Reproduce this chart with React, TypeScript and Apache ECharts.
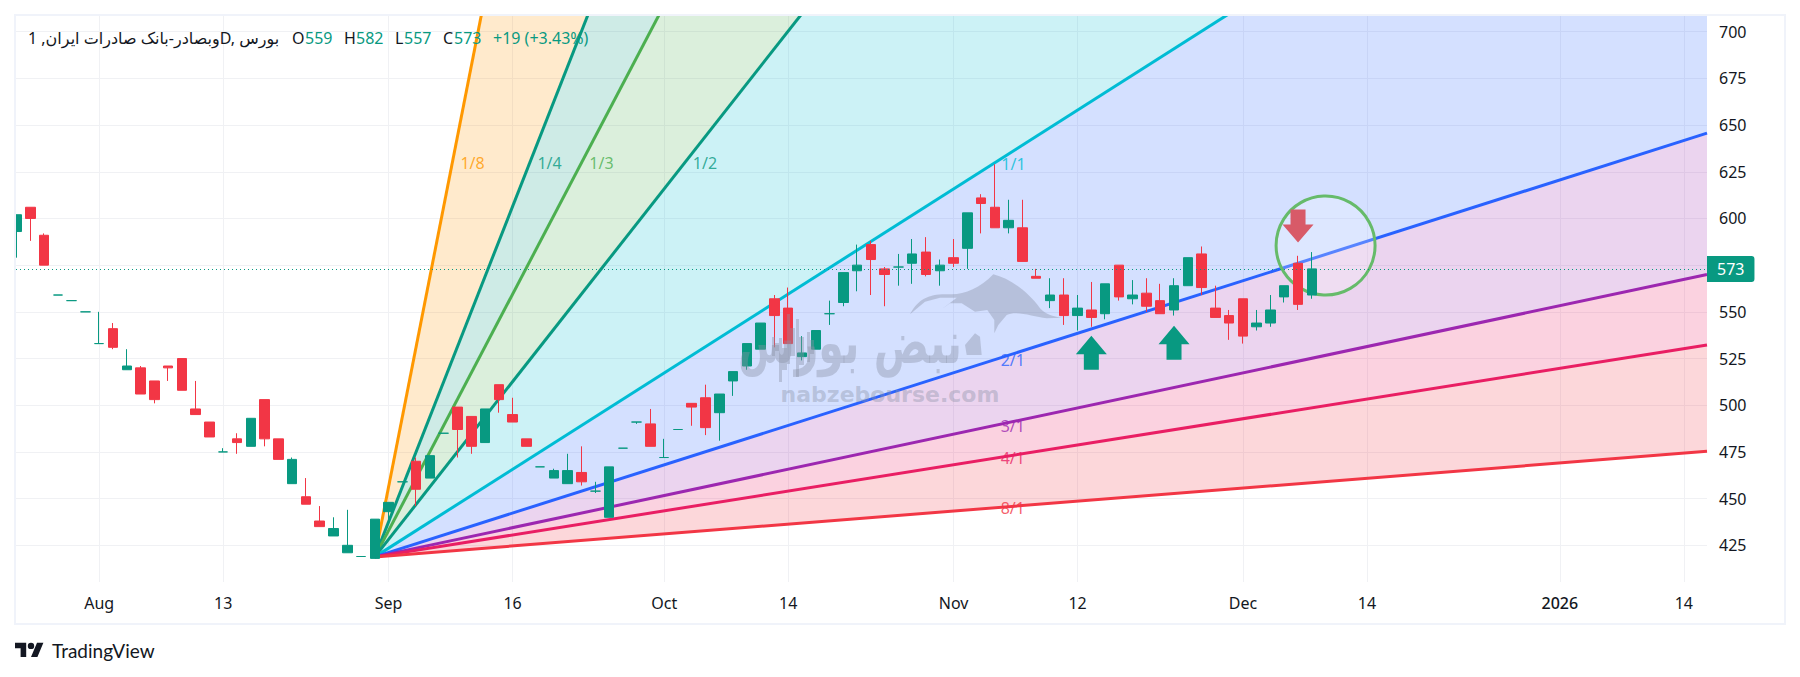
import { useEffect, useRef } from "react";
import * as echarts from "echarts";

const opens = [593,606,591,559,556,550,533,541,519,520,513,521,525,498,491,475,482,478,503,482,458,451,438,430,421,419,418,443,459,470,461,485,499,494,480,511,495,482,467,461,458,464,454,440,477,491,490,472,487,501,504,496,513,521,530,557,552,526,530,549,555,572,586,573,574,576,582,572,579,584,611,606,595,595,569,556,559,548,551,549,575,557,560,556,551,564,581,552,548,557,542,544,558,576,559];
const closes = [602,600,575,559,556,550,533,531,521,506,503,520,508,495,483,475,480,493,482,471,471,447,435,434,425,419,439,448,459,455,473,485,487,478,498,503,491,478,467,465,465,459,454,467,477,491,478,472,487,499,488,506,518,533,544,548,533,528,540,549,571,575,578,570,574,581,570,575,576,603,608,595,599,577,568,559,548,552,547,565,558,559,553,549,564,579,563,547,544,537,544,551,564,554,573];
const lows = [579,588,575,559,556,550,533,530,519,506,501,513,508,495,483,475,474,478,478,471,458,447,435,430,421,419,418,439,459,446,461,485,472,474,480,496,491,478,467,461,458,457,453,440,477,490,478,472,487,489,484,481,505,519,530,531,533,524,530,543,553,561,559,553,564,565,569,564,574,573,592,595,592,577,568,552,543,540,542,546,556,554,550,549,548,564,559,547,535,533,540,542,555,551,557];
const highs = [602,606,592,559,556,550,550,544,530,521,513,521,525,513,491,477,485,493,503,482,472,461,446,440,444,419,439,448,459,472,473,485,499,494,498,511,504,482,467,466,474,478,459,467,477,491,498,482,487,501,511,506,518,533,544,559,563,537,540,556,571,586,588,574,581,589,590,578,589,603,613,629,610,610,573,568,568,559,566,565,575,567,568,565,568,579,585,564,551,557,551,559,564,580,582];

const yTicks = [425, 450, 475, 500, 525, 550, 600, 625, 650, 675, 700];
const yGridLines = [425, 450, 475, 500, 525, 550, 575, 600, 625, 650, 675, 700];
const xTicks = [6, 15, 27, 36, 47, 56, 68, 77, 89, 98, 112, 121];
const xTickLabels = ["Aug", "13", "Sep", "16", "Oct", "14", "Nov", "12", "Dec", "14", "2026", "14"];

const fanOrigin = [26, 418.8];
const fanEndIndex = 122.68;
const fanNames = ["1/8", "1/4", "1/3", "1/2", "1/1", "2/1", "3/1", "4/1", "8/1"];
const fanEndValues = [4047, 2233, 1779, 1326, 872.3, 645.7, 570, 532.3, 475.3];
const fanColors = ["#ff9800", "#089981", "#4caf50", "#089981", "#00bcd4", "#2962ff", "#9c27b0", "#e91e63", "#f23645"];
const fanFills = ["#ff9800", "#089981", "#4caf50", "#00bcd4", "#2962ff", "#9c27b0", "#e91e63", "#f23645"];
const fanLabelAt = [[33.09, 629.7], [38.68, 629.7], [42.45, 629.7], [49.96, 629.7], [72.35, 629.2], [72.3, 524.1], [72.3, 488.8], [72.3, 471.7], [72.3, 445.2]];

const lastPrice = 573;
const upArrows = [[78, 528.1], [84, 533.5]];
const downArrows = [[93, 595.9]];
const circleAt = [95, 585.5];

const legendParts = [
  { text: "وبصادر-بانک صادرات ایران, 1D, بورس", x: 28, color: "#131722" },
  { text: "O", x: 292, color: "#131722" },
  { text: "559", x: 305, color: "#089981" },
  { text: "H", x: 344, color: "#131722" },
  { text: "582", x: 356, color: "#089981" },
  { text: "L", x: 395, color: "#131722" },
  { text: "557", x: 404, color: "#089981" },
  { text: "C", x: 443, color: "#131722" },
  { text: "573", x: 454, color: "#089981" },
  { text: "+19 (+3.43%)", x: 493, color: "#089981" },
];

const FONT = "'Noto Sans', 'DejaVu Sans', sans-serif";
const UP = "#089981";
const DOWN = "#f23645";
const WATERMARK = "rgba(137,144,165,0.4)";
const ARROW_UP = "path://M15.5 0L31 18L23 18L23 33L8 33L8 18L0 18Z";
const ARROW_DOWN = "path://M8 0L23 0L23 15L31 15L15.5 33L0 15L8 15Z";

echarts.graphic.registerShape("tvLogo", echarts.graphic.extendPath(
  "M14 22H7V11H0V4h14v18zM28 22h-8l7.5-18h8L28 22zM24 8a4 4 0 1 1-8 0a4 4 0 1 1 8 0z",
  {},
));
// bull silhouette and the little candles of the watermark, roughly traced
echarts.graphic.registerShape("bull", echarts.graphic.extendPath(
  "M910 314.3C918.3 298.3 930 293.3 950 294.3C963.3 295 980 288.3 993.3 274.3C1010 278.3 1028.3 291.7 1040 308.3C1045 314.3 1053.3 316.7 1061.7 317.7L1046.7 318.3C1033.3 316.7 1016.7 310 1006.7 315L998.3 325L994.3 333.3L994.3 320L987.3 310L975 311.7L961.7 303.3L950 303.3L941.7 309.3L956.7 297.7L940 297.7L925 301.7Z" +
  "M975 333.3L980 336.7L981.7 355L966.7 355L965 345Z" +
  "M772 356h3v-5h5v-8h-5v-6h-3zM779 382h3v-12h5v-22h-5v-10h-3zM787 364h3v-8h5v-28h-5v-14h-3zM796 377h3v-12h5v-28h-5v-18h-3zM807 362h3v-8h4v-14h-4v-8h-3z",
  {},
));

export default function App() {
  const ref = useRef<HTMLDivElement>(null);
  useEffect(() => {
    if (!ref.current) return;
    const chart = echarts.init(ref.current, undefined, { renderer: "svg" });
    const candles = opens.map((o, i) => [i, o, closes[i], lows[i], highs[i]]);
    const fanBands = fanEndValues.slice(0, -1).map((v, i) => [fanOrigin[0], fanOrigin[1], v, fanEndValues[i + 1], i]);
    const option = {
      animation: false,
      backgroundColor: "#ffffff",
      textStyle: { fontFamily: FONT },
      grid: { left: 16, right: 93, top: 16, bottom: 95 },
      xAxis: {
        type: "value",
        min: -0.04,
        max: fanEndIndex,
        axisLine: { show: false },
        axisTick: { show: false, customValues: xTicks },
        axisLabel: {
          customValues: xTicks,
          margin: 13,
          color: "#131722",
          fontSize: 16,
          fontFamily: FONT,
          hideOverlap: false,
          formatter: (v: number) => {
            const t = xTickLabels[xTicks.indexOf(v)];
            return t === "2026" ? "{b|2026}" : t;
          },
          rich: { b: { fontWeight: 500, fontSize: 16, color: "#131722", fontFamily: FONT } },
        },
        splitLine: { show: true, lineStyle: { color: "#f0f1f4", width: 1 } },
      },
      yAxis: {
        type: "value",
        position: "right",
        min: 405.35,
        max: 708.4,
        axisLine: { show: false },
        axisTick: { show: false, customValues: yGridLines },
        axisLabel: { customValues: yTicks, margin: 12, color: "#131722", fontSize: 16, fontFamily: FONT, hideOverlap: false },
        splitLine: { show: true, lineStyle: { color: "#f0f1f4", width: 1 } },
      },
      series: [
        {
          type: "custom",
          z: 1,
          clip: true,
          silent: true,
          data: fanBands,
          encode: { x: 0, y: 1 },
          renderItem: (_: unknown, api: any) => {
            const a = api.coord([api.value(0), api.value(1)]);
            const b = api.coord([fanEndIndex, api.value(2)]);
            const c = api.coord([fanEndIndex, api.value(3)]);
            return {
              type: "polygon",
              shape: { points: [a, b, c] },
              style: { fill: fanFills[api.value(4)], opacity: 0.2 },
            };
          },
        },
        ...fanEndValues.map((v, i) => ({
          type: "line",
          z: 2,
          silent: true,
          showSymbol: false,
          data: [fanOrigin, [fanEndIndex, v]],
          lineStyle: { color: fanColors[i], width: 3 },
        })),
        {
          type: "scatter",
          z: 3,
          silent: true,
          data: [circleAt],
          symbol: "circle",
          symbolSize: 99,
          itemStyle: { color: "rgba(255,255,255,0.22)", borderColor: "#66bb6a", borderWidth: 3, opacity: 1 },
        },
        {
          type: "candlestick",
          z: 4,
          silent: true,
          data: candles,
          encode: { x: 0, y: [1, 2, 3, 4] },
          barWidth: 10,
          itemStyle: {
            color: UP,
            color0: DOWN,
            borderColor: UP,
            borderColor0: DOWN,
            borderColorDoji: UP,
            borderWidth: 1,
          },
          markLine: {
            silent: true,
            symbol: "none",
            animation: false,
            lineStyle: { color: UP, type: [1, 3], width: 1 },
            label: {
              show: true,
              position: "end",
              distance: 0,
              color: "#ffffff",
              fontSize: 16,
              fontFamily: FONT,
              backgroundColor: UP,
              padding: [5, 10, 5, 10],
              borderRadius: [0, 3, 3, 0],
            },
            data: [{ yAxis: lastPrice }],
          },
        },
        {
          type: "scatter",
          z: 5,
          silent: true,
          data: fanLabelAt.map((p, i) => ({
            value: p,
            label: { show: true, position: "inside", formatter: fanNames[i], color: fanColors[i], fontSize: 16, fontFamily: FONT },
          })),
          symbolSize: 1,
          itemStyle: { color: "transparent" },
        },
        {
          type: "scatter",
          z: 6,
          silent: true,
          data: upArrows,
          symbol: ARROW_UP,
          symbolSize: [31, 34],
          itemStyle: { color: UP, opacity: 1 },
        },
        {
          type: "scatter",
          z: 6,
          silent: true,
          data: downArrows,
          symbol: ARROW_DOWN,
          symbolSize: [31, 33],
          itemStyle: { color: "#d85a68", opacity: 1 },
        },
      ],
      graphic: [
        // the first candle is cut by the pane edge
        { type: "rect", z: 49, silent: true, shape: { x: 0, y: 15, width: 15, height: 609 }, style: { fill: "#ffffff" } },
        { type: "rect", z: 50, silent: true, shape: { x: 15, y: 15, width: 1770, height: 609 }, style: { fill: "none", stroke: "#f0f3fa", lineWidth: 2 } },
        { type: "bull", z: 60, silent: true, style: { fill: WATERMARK } },
        {
          type: "text",
          z: 60,
          silent: true,
          x: 850,
          y: 343,
          scaleX: 0.76,
          scaleY: 1.1,
          style: { text: "نبض بورس", fill: WATERMARK, font: "bold 54px 'DejaVu Sans'", textAlign: "center", textVerticalAlign: "middle" },
        },
        {
          type: "text",
          z: 60,
          silent: true,
          x: 890,
          y: 394,
          style: { text: "nabzebourse.com", fill: WATERMARK, font: "bold 22px 'DejaVu Sans'", textAlign: "center", textVerticalAlign: "middle" },
        },
        ...legendParts.map((p) => ({
          type: "text",
          z: 70,
          silent: true,
          x: p.x,
          y: 38,
          style: { text: p.text, fill: p.color, font: `16px ${FONT}`, textVerticalAlign: "middle" },
        })),
        { type: "tvLogo", z: 70, silent: true, x: 15, y: 639.5, scaleX: 0.8, scaleY: 0.8, style: { fill: "#131722" } },
        {
          type: "text",
          z: 70,
          silent: true,
          x: 52,
          y: 650,
          style: { text: "TradingView", fill: "#131722", font: "19px Lato", textVerticalAlign: "middle" },
        },
      ],
    } as echarts.EChartsOption;
    chart.setOption(option);
    return () => chart.dispose();
  }, []);
  return <div ref={ref} style={{ position: "fixed", left: 0, top: 0, width: 1800, height: 677 }} aria-label="Gann fan price chart" />;
}
